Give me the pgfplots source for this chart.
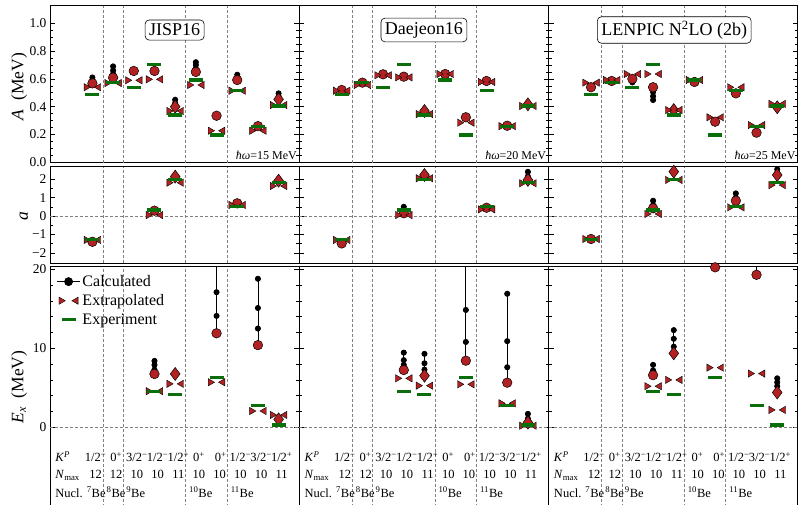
\documentclass[border=0pt]{standalone}
\usepackage{pgfplots}
\pgfplotsset{compat=1.18}
\usepackage{pgfplotstable}
\usepackage{fontspec}
\setmainfont{Liberation Serif}

\definecolor{myred}{RGB}{178,34,34}
\definecolor{mygreen}{RGB}{10,110,10}

\pgfplotsset{
  panel/.style={scale only axis, width=249.3pt, xmin=-2.05, xmax=10.0,
    xtick=\empty, extra x ticks={0.5,1.5,4.5,6.5}, extra x tick labels={},
    extra x tick style={grid=major, major tick length=0pt},
    grid style={gray, densely dashed, line width=0.5pt},
    axis line style={line width=1pt},
    every tick/.style={black, line width=0.6pt},
    major tick length=5pt, minor tick length=3pt,
    ticklabel style={font=\fontsize{13.5}{15}\selectfont},
    ylabel style={font=\fontsize{17.5}{19}\selectfont},
    /pgf/number format/assume math mode=true,
    axis background/.style={fill=white}},
  toprow/.style={height=157pt, ymin=-0.005, ymax=1.1245,
    ytick={0,0.2,0.4,0.6,0.8,1.0}, minor y tick num=3},
  midrow/.style={height=96.8pt, ymin=-2.58, ymax=2.68,
    ytick={-2,-1,0,1,2}, minor y tick num=1,
    extra y ticks={0}, extra y tick labels={},
    extra y tick style={grid=major, major tick length=0pt}},
  botrow/.style={height=245pt, ymin=-10.72, ymax=20.29,
    ytick={0,10,20}, minor y tick num=4,
    extra y ticks={0}, extra y tick labels={},
    extra y tick style={grid=major, major tick length=0pt}},
  nolab/.style={yticklabels={}},
  calc/.style={black, line width=0.8pt, mark=*, mark size=2.6pt},
  calcline/.style={black, line width=0.8pt, no marks},
  fin/.style={only marks, mark=*, mark size=4.8pt,
    mark options={fill=myred, draw=black, line width=0.5pt}},
  finD/.style={only marks, mark=diamond*, mark size=6.5pt,
    mark options={fill=myred, draw=black, line width=0.5pt}},
  exL/.style={only marks, mark=triangle*, mark size=4.2pt,
    mark options={fill=myred, draw=black, line width=0.4pt, xshift=-6.2pt, rotate=-90}},
  exR/.style={only marks, mark=triangle*, mark size=4.2pt,
    mark options={fill=myred, draw=black, line width=0.4pt, xshift=6.2pt, rotate=90}},
  expt/.style={only marks, mark=-, mark size=7pt,
    mark options={draw=mygreen, line width=3.2pt}},
}
\tikzset{
  lbl/.style={font=\fontsize{12.5}{14}\selectfont, anchor=mid, inner sep=0pt},
  boxlab/.style={draw, rounded corners=4pt, line width=0.6pt, inner sep=4pt,
    font=\fontsize{18}{20}\selectfont, fill=white},
  hw/.style={anchor=south east, inner sep=1pt, font=\fontsize{12}{14}\selectfont}
}

\newcommand{\labelrows}{%
  \node[lbl, anchor=mid west] at (axis cs:-1.8,-4.05) {\textit{K}\textsuperscript{\textit{P}}};
  \node[lbl] at (axis cs:0.15,-4.05) {1/2\textsuperscript{−}};
  \node[lbl] at (axis cs:1.15,-4.05) {0\textsuperscript{+}};
  \node[lbl] at (axis cs:2.15,-4.05) {3/2\textsuperscript{−}};
  \node[lbl] at (axis cs:3.15,-4.05) {1/2\textsuperscript{−}};
  \node[lbl] at (axis cs:4.15,-4.05) {1/2\textsuperscript{+}};
  \node[lbl] at (axis cs:5.15,-4.05) {0\textsuperscript{+}};
  \node[lbl] at (axis cs:6.2,-4.05) {0\textsuperscript{+}};
  \node[lbl] at (axis cs:7.15,-4.05) {1/2\textsuperscript{−}};
  \node[lbl] at (axis cs:8.15,-4.05) {3/2\textsuperscript{−}};
  \node[lbl] at (axis cs:9.15,-4.05) {1/2\textsuperscript{+}};
  \node[lbl, anchor=mid west] at (axis cs:-1.8,-6.25) {\textit{N}\textsubscript{max}};
  \node[lbl] at (axis cs:0.15,-6.25) {12};
  \node[lbl] at (axis cs:1.15,-6.25) {12};
  \node[lbl] at (axis cs:2.15,-6.25) {10};
  \node[lbl] at (axis cs:3.15,-6.25) {10};
  \node[lbl] at (axis cs:4.15,-6.25) {11};
  \node[lbl] at (axis cs:5.15,-6.25) {10};
  \node[lbl] at (axis cs:6.15,-6.25) {10};
  \node[lbl] at (axis cs:7.15,-6.25) {10};
  \node[lbl] at (axis cs:8.15,-6.25) {10};
  \node[lbl] at (axis cs:9.15,-6.25) {11};
  \node[lbl, anchor=mid west] at (axis cs:-1.8,-8.57) {Nucl.};
  \node[lbl, anchor=mid west] at (axis cs:-0.28,-8.57) {\textsuperscript{7}Be};
  \node[lbl, anchor=mid west] at (axis cs:0.68,-8.57) {\textsuperscript{8}Be};
  \node[lbl, anchor=mid west] at (axis cs:1.63,-8.57) {\textsuperscript{9}Be};
  \node[lbl, anchor=mid west] at (axis cs:4.67,-8.57) {\textsuperscript{10}Be};
  \node[lbl, anchor=mid west] at (axis cs:6.68,-8.57) {\textsuperscript{11}Be};
}

% extrapolated and experimental values, one table per panel
\pgfplotstableread{
x ext exp
0 0.540 0.486
1 0.570 0.575
2 0.590 0.537
3 0.597 0.705
4 0.369 0.340
5 0.556 0.592
6 0.227 0.196
7 0.515 0.515
8 0.227 0.260
9 0.412 0.405
}\TA
\pgfplotstableread{
x ext exp
0 0.515 0.486
1 0.556 0.575
2 0.626 0.537
3 0.611 0.705
4 0.347 0.340
5 0.635 0.592
6 0.285 0.196
7 0.578 0.515
8 0.260 0.260
9 0.405 0.405
}\TB
\pgfplotstableread{
x ext exp
0 0.573 0.486
1 0.592 0.575
2 0.635 0.537
3 0.635 0.705
4 0.376 0.340
5 0.592 0.592
6 0.324 0.196
7 0.540 0.515
8 0.268 0.260
9 0.420 0.405
}\TC
\pgfplotstableread{
x ext exp
0 -1.30 -1.27
3 0.05 0.33
4 1.81 2.00
7 0.60 0.51
9 1.63 1.81
}\MA
\pgfplotstableread{
x ext exp
0 -1.30 -1.27
3 0.05 0.33
4 2.05 2.00
7 0.36 0.51
9 1.78 1.81
}\MB
\pgfplotstableread{
x ext exp
0 -1.25 -1.27
3 0.11 0.33
4 1.96 2.00
7 0.47 0.51
9 1.68 1.81
}\MC
\pgfplotstableread{
x ext exp
3 4.57 4.57
4 5.50 4.20
6 5.70 6.33
8 2.06 2.78
9 1.56 0.30
}\BA
\pgfplotstableread{
x ext exp
3 6.20 4.57
4 5.27 4.20
6 5.44 6.33
8 3.04 2.78
9 0.20 0.30
}\BB
\pgfplotstableread{
x ext exp
3 5.20 4.57
4 6.00 4.20
6 7.55 6.33
8 6.80 2.78
9 2.20 0.30
}\BC

\begin{document}
\begin{tikzpicture}

% ---------------- top row: A ----------------
\begin{axis}[panel, toprow, at={(50pt,342pt)}, anchor=south west,
  yticklabels={0.0,0.2,0.4,0.6,0.8,1.0},
  ylabel={\textit{A}\ \ (MeV)},
  ylabel style={at={(axis description cs:-0.124,0.486)}, anchor=center}]
\addplot[calc] coordinates {(0,0.61)(0,0.59)(0,0.568)};
\addplot[calc] coordinates {(1,0.69)(1,0.66)(1,0.635)(1,0.609)};
\addplot[calc] coordinates {(4,0.45)(4,0.425)(4,0.40)};
\addplot[calc] coordinates {(5,0.72)(5,0.70)(5,0.675)(5,0.65)};
\addplot[calc] coordinates {(7,0.63)(7,0.61)(7,0.592)};
\addplot[calc] coordinates {(9,0.496)(9,0.475)(9,0.453)};
\addplot[fin] coordinates {(0,0.568)(1,0.609)(2,0.657)(3,0.657)(5,0.65)(6,0.335)(7,0.592)(8,0.26)};
\addplot[finD] coordinates {(4,0.40)(9,0.453)};
\addplot[exL] table[x=x,y=ext]{\TA};
\addplot[exR] table[x=x,y=ext]{\TA};
\addplot[expt] table[x=x,y=exp]{\TA};
\node[boxlab] at (rel axis cs:0.5,0.847) {JISP16};
\node[hw] at (rel axis cs:0.995,0.015) {\textit{ħω}=15 MeV};
\end{axis}

\begin{axis}[panel, toprow, nolab, at={(299.3pt,342pt)}, anchor=south west]
\addplot[fin] coordinates {(0,0.52)(1,0.573)(2,0.633)(3,0.616)(5,0.635)(6,0.324)(7,0.585)(8,0.263)};
\addplot[finD] coordinates {(4,0.369)(9,0.417)};
\addplot[exL] table[x=x,y=ext]{\TB};
\addplot[exR] table[x=x,y=ext]{\TB};
\addplot[expt] table[x=x,y=exp]{\TB};
\node[boxlab] at (rel axis cs:0.5,0.847) {Daejeon16};
\node[hw] at (rel axis cs:0.995,0.015) {\textit{ħω}=20 MeV};
\end{axis}

\begin{axis}[panel, toprow, nolab, at={(548.6pt,342pt)}, anchor=south west]
\addplot[calc] coordinates {(2,0.575)(2,0.60)};
\addplot[calc] coordinates {(3,0.448)(3,0.475)(3,0.505)(3,0.54)};
\addplot[fin] coordinates {(0,0.54)(1,0.585)(2,0.60)(3,0.54)(5,0.578)(6,0.292)(7,0.496)(8,0.213)};
\addplot[finD] coordinates {(4,0.376)(9,0.396)};
\addplot[exL] table[x=x,y=ext]{\TC};
\addplot[exR] table[x=x,y=ext]{\TC};
\addplot[expt] table[x=x,y=exp]{\TC};
\node[boxlab] at (rel axis cs:0.504,0.847) {LENPIC N\textsuperscript{2}LO (2b)};
\node[hw] at (rel axis cs:0.995,0.015) {\textit{ħω}=25 MeV};
\end{axis}

% ---------------- middle row: a ----------------
\begin{axis}[panel, midrow, at={(50pt,241.5pt)}, anchor=south west,
  yticklabels={−2,−1,0,1,2},
  ylabel={\textit{a}},
  ylabel style={at={(axis description cs:-0.105,0.49)}, anchor=center}]
\addplot[fin] coordinates {(0,-1.40)(3,0.29)(7,0.69)};
\addplot[finD] coordinates {(4,2.14)(9,1.92)};
\addplot[exL] table[x=x,y=ext]{\MA};
\addplot[exR] table[x=x,y=ext]{\MA};
\addplot[expt] table[x=x,y=exp]{\MA};
\end{axis}

\begin{axis}[panel, midrow, nolab, at={(299.3pt,241.5pt)}, anchor=south west]
\addplot[calc] coordinates {(3,0.5)(3,0.3)(3,0.15)};
\addplot[calc] coordinates {(9,2.4)(9,2.15)(9,1.96)};
\addplot[fin] coordinates {(0,-1.49)(3,0.15)(7,0.45)};
\addplot[finD] coordinates {(4,2.23)(9,1.96)};
\addplot[exL] table[x=x,y=ext]{\MB};
\addplot[exR] table[x=x,y=ext]{\MB};
\addplot[expt] table[x=x,y=exp]{\MB};
\end{axis}

\begin{axis}[panel, midrow, nolab, at={(548.6pt,241.5pt)}, anchor=south west]
\addplot[calc] coordinates {(3,0.83)(3,0.6)(3,0.42)};
\addplot[calc] coordinates {(7,1.23)(7,1.0)(7,0.83)};
\addplot[calc] coordinates {(9,2.54)(9,2.35)(9,2.23)};
\addplot[fin] coordinates {(0,-1.25)(3,0.42)(7,0.83)};
\addplot[finD] coordinates {(4,2.41)(9,2.23)};
\addplot[exL] table[x=x,y=ext]{\MC};
\addplot[exR] table[x=x,y=ext]{\MC};
\addplot[expt] table[x=x,y=exp]{\MC};
\end{axis}

% ---------------- bottom row: E_x ----------------
\begin{axis}[panel, botrow, at={(50pt,-7pt)}, anchor=south west,
  yticklabels={0,10,20},
  ylabel={\textit{E}\textsubscript{\textit{x}}\ \ (MeV)},
  ylabel style={at={(axis description cs:-0.124,0.51)}, anchor=center},
  legend style={at={(axis description cs:0.026,0.975)}, anchor=north west,
    draw=none, fill=none, inner sep=0pt, row sep=2.5pt,
    font=\fontsize{16}{18}\selectfont},
  legend cell align=left]
\addlegendimage{legend image code/.code={
  \draw[black, line width=0.8pt, mark=*, mark size=4pt, mark repeat=2, mark phase=2]
    plot coordinates {(0pt,0pt)(11.5pt,0pt)(23pt,0pt)};}}
\addlegendimage{legend image code/.code={
  \draw plot[only marks, mark=triangle*, mark size=4.2pt,
    mark options={fill=myred, draw=black, line width=0.4pt, rotate=-90}] coordinates {(4pt,0pt)};
  \draw plot[only marks, mark=triangle*, mark size=4.2pt,
    mark options={fill=myred, draw=black, line width=0.4pt, rotate=90}] coordinates {(19pt,0pt)};}}
\addlegendimage{legend image code/.code={
  \draw[mygreen, line width=3.2pt] (5pt,0pt) -- (19pt,0pt);}}
\legend{Calculated,Extrapolated,Experiment}
\addplot[calc] coordinates {(3,8.4)(3,7.9)(3,7.3)(3,6.75)};
\addplot[calcline] coordinates {(6,11.9)(6,30)};
\addplot[calc] coordinates {(6,17.1)(6,14.1)(6,11.9)};
\addplot[calc] coordinates {(8,18.8)(8,15.1)(8,12.5)(8,10.4)};
\addplot[fin] coordinates {(3,6.75)(6,11.9)(8,10.4)};
\addplot[finD] coordinates {(4,6.75)(9,1.0)};
\addplot[exL] table[x=x,y=ext]{\BA};
\addplot[exR] table[x=x,y=ext]{\BA};
\addplot[expt] table[x=x,y=exp]{\BA};
\labelrows
\end{axis}

\begin{axis}[panel, botrow, nolab, at={(299.3pt,-7pt)}, anchor=south west]
\addplot[calc] coordinates {(3,9.45)(3,8.5)(3,7.9)(3,7.25)};
\addplot[calc] coordinates {(4,9.3)(4,8.1)(4,7.3)(4,6.53)};
\addplot[calcline] coordinates {(6,8.43)(6,30)};
\addplot[calc] coordinates {(6,14.85)(6,10.8)(6,8.43)};
\addplot[calc] coordinates {(8,16.9)(8,10.9)(8,7.6)(8,5.65)};
\addplot[calc] coordinates {(9,1.7)(9,1.1)(9,0.6)};
\addplot[fin] coordinates {(3,7.25)(6,8.43)(8,5.65)};
\addplot[finD] coordinates {(4,6.53)(9,0.6)};
\addplot[exL] table[x=x,y=ext]{\BB};
\addplot[exR] table[x=x,y=ext]{\BB};
\addplot[expt] table[x=x,y=exp]{\BB};
\labelrows
\end{axis}

\begin{axis}[panel, botrow, nolab, at={(548.6pt,-7pt)}, anchor=south west]
\addplot[calc] coordinates {(3,7.9)(3,7.2)(3,6.6)};
\addplot[calc] coordinates {(4,12.3)(4,11.2)(4,10.2)(4,9.36)};
\addplot[calcline] coordinates {(8,19.3)(8,30)};
\addplot[calc] coordinates {(9,6.2)(9,5.7)(9,5.2)(9,4.4)};
\addplot[fin] coordinates {(3,6.6)(6,20.25)(8,19.3)};
\addplot[finD] coordinates {(4,9.36)(9,4.4)};
\addplot[exL] table[x=x,y=ext]{\BC};
\addplot[exR] table[x=x,y=ext]{\BC};
\addplot[expt] table[x=x,y=exp]{\BC};
\labelrows
\end{axis}

\pgfresetboundingbox
\useasboundingbox (0pt,0pt) rectangle (798pt,505pt);
\end{tikzpicture}
\end{document}
